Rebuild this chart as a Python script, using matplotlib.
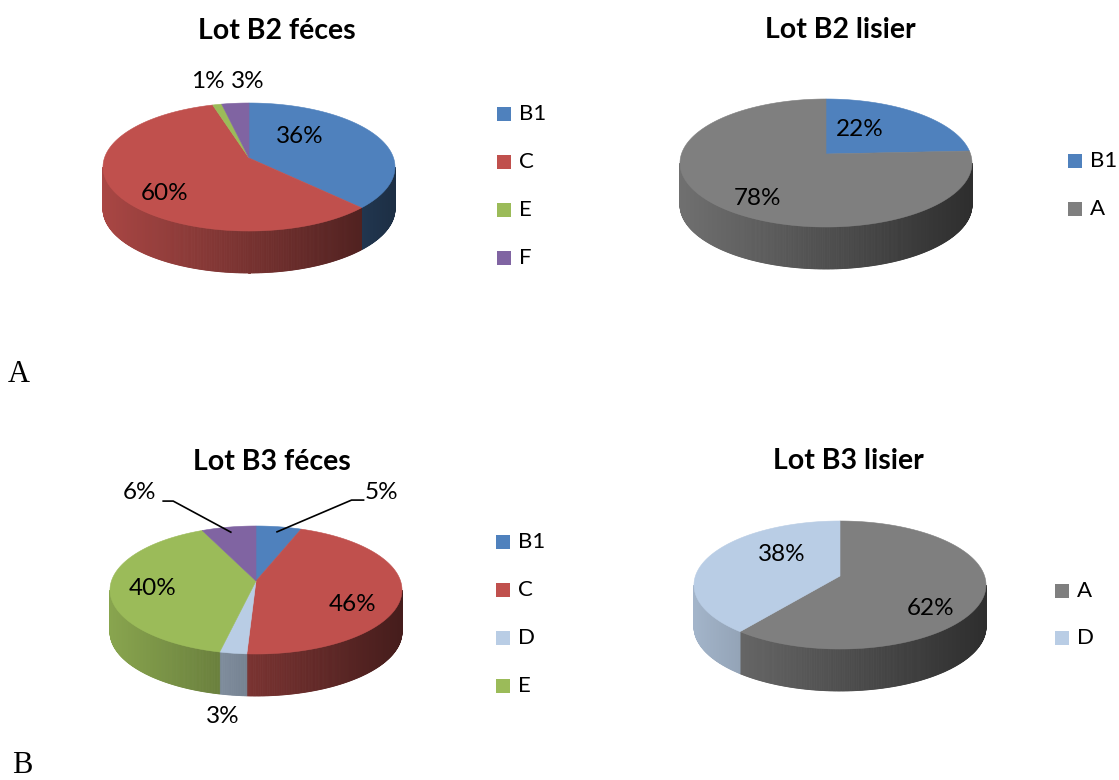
import numpy as np
import matplotlib
matplotlib.use('Agg')
import matplotlib.pyplot as plt
from matplotlib.patches import Polygon, Rectangle
from matplotlib.colors import to_rgb

# ---------------- data ----------------
b2_feces_labels = ['B1', 'C', 'E', 'F']
b2_feces_values = [36, 60, 1, 3]
b2_feces_legend = ['B1', 'C', 'E', 'F']

b2_lisier_labels = ['B1', 'A']
b2_lisier_values = [22, 78]
b2_lisier_legend = ['B1', 'A']

b3_feces_labels = ['B1', 'C', 'D', 'E', 'F']
b3_feces_values = [5, 46, 3, 40, 6]
b3_feces_legend = ['B1', 'C', 'D', 'E']

b3_lisier_labels = ['A', 'D']
b3_lisier_values = [62, 38]
b3_lisier_legend = ['A', 'D']

titles = ['Lot B2 féces', 'Lot B2 lisier', 'Lot B3 féces', 'Lot B3 lisier']

palette = {'A': '#7F7F7F', 'B1': '#4F81BD', 'C': '#C0504D',
           'D': '#B9CDE5', 'E': '#9BBB59', 'F': '#8064A2'}

FONT = ['Lato', 'DejaVu Sans']

fig = plt.figure(figsize=(11.19, 7.80), dpi=100)
ax = fig.add_axes([0, 0, 1, 1])
ax.set_xlim(0, 1119)
ax.set_ylim(780, 0)
ax.axis('off')

RX, RY, DEPTH, APEX = 146, 64, 42, 9


def pt(cx, cy, phi, r=1.0):
    a = np.radians(phi)
    return cx + r * RX * np.sin(a), cy - r * RY * np.cos(a)


def pie3d(cx, cy, labels, values, label_pos, outside=None):
    vals = np.asarray(values, float)
    frac = vals / vals.sum()
    edges = np.concatenate([[0], np.cumsum(frac)]) * 360
    cols = [palette[l] for l in labels]
    # side walls (front half only)
    for i in range(len(vals)):
        a0, a1 = max(edges[i], 90), min(edges[i + 1], 270)
        if a1 <= a0:
            continue
        n = max(2, int((a1 - a0) / 0.5) + 1)
        phis = np.linspace(a0, a1, n)
        base = np.array(to_rgb(cols[i]))
        for p0, p1 in zip(phis[:-1], phis[1:]):
            x0, y0 = pt(cx, cy, p0)
            x1, y1 = pt(cx, cy, p1)
            t = ((x0 + x1) / 2 - (cx - RX)) / (2 * RX)
            f = 0.88 - 0.52 * t
            c = np.clip(base * f, 0, 1)
            ax.add_patch(Polygon([(x0, y0), (x1, y1), (x1, y1 + DEPTH), (x0, y0 + DEPTH)],
                                 closed=True, fc=c, ec=c, lw=0.6))
    # top faces
    for i in range(len(vals)):
        n = max(2, int((edges[i + 1] - edges[i]) / 0.5) + 1)
        phis = np.linspace(edges[i], edges[i + 1], n)
        pts = [(cx, cy - APEX)] + [pt(cx, cy, p) for p in phis]
        ax.add_patch(Polygon(pts, closed=True, fc=cols[i], ec=cols[i], lw=0.4))
    # labels
    for i, v in enumerate(vals):
        ux, uy = label_pos[i]
        ax.text(cx + ux * RX, cy + uy * RY, f'{int(round(v))}%', ha='center', va='center',
                fontsize=17.5, family=FONT, color='black')
    # leader lines
    if outside:
        for i, side in outside:
            mid = (edges[i] + edges[i + 1]) / 2
            x0, y0 = pt(cx, cy, mid, 0.92)
            ux, uy = label_pos[i]
            lx, ly = cx + ux * RX, cy + uy * RY
            if side > 0:
                ex = lx - 30
                ax.plot([x0, ex, ex + 12], [y0, ly + 8, ly + 8], color='black', lw=1.2)
            else:
                ex = lx + 34
                ax.plot([x0, ex, ex - 10], [y0, ly + 9, ly + 9], color='black', lw=1.2)


def legend(x, y0, items, step=48):
    for k, name in enumerate(items):
        y = y0 + k * step
        ax.add_patch(Rectangle((x, y - 7), 14, 14, fc=palette[name], ec='none'))
        ax.text(x + 22, y, name, ha='left', va='center', fontsize=16, family=FONT)


TSIZE = 20.5

# B2 feces
pie3d(249, 167, b2_feces_labels, b2_feces_values,
      [(0.35, -0.47), (-0.58, 0.41), (-0.28, -1.33), (-0.01, -1.33)])
legend(497, 114, b2_feces_legend)
ax.text(277, 31, titles[0], ha='center', va='center', fontsize=TSIZE, fontweight='bold', family=FONT)

# B2 lisier
pie3d(826, 163, b2_lisier_labels, b2_lisier_values,
      [(0.23, -0.52), (-0.47, 0.55)])
legend(1068, 161, b2_lisier_legend)
ax.text(840, 30, titles[1], ha='center', va='center', fontsize=TSIZE, fontweight='bold', family=FONT)

# B3 feces
pie3d(256, 590, b3_feces_labels, b3_feces_values,
      [(0.86, -1.53), (0.66, 0.23), (-0.23, 1.98), (-0.71, -0.03), (-0.80, -1.53)],
      outside=[(0, 1), (4, -1)])
legend(496, 542, b3_feces_legend)
ax.text(272, 462, titles[2], ha='center', va='center', fontsize=TSIZE, fontweight='bold', family=FONT)

# B3 lisier
pie3d(840, 585, b3_lisier_labels, b3_lisier_values,
      [(0.62, 0.36), (-0.40, -0.47)])
legend(1055, 591, b3_lisier_legend, step=47)
ax.text(848, 461, titles[3], ha='center', va='center', fontsize=TSIZE, fontweight='bold', family=FONT)

# panel letters
ax.text(8, 382, 'A', ha='left', va='baseline', fontsize=22, family=['Liberation Serif', 'DejaVu Serif'])
ax.text(12, 773, 'B', ha='left', va='baseline', fontsize=22, family=['Liberation Serif', 'DejaVu Serif'])

fig.savefig('out.png', dpi=100)
